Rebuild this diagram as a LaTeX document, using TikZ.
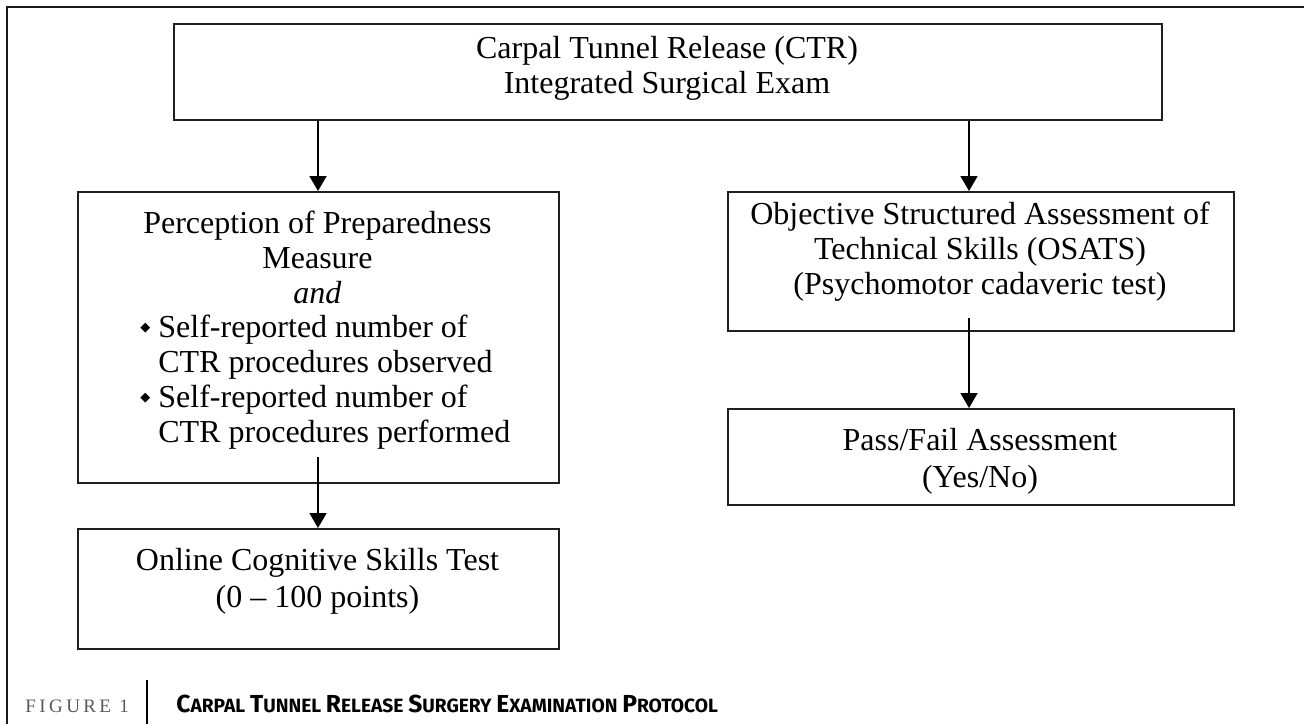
\documentclass[tikz,border=0pt]{standalone}
\usepackage{fontspec}
\setmainfont{Liberation Serif}
\newfontfamily\capfont{Fira Sans}
\newfontfamily\symfont{DejaVu Sans}
\usetikzlibrary{arrows.meta}
\newcommand\capsc[2]{{\fontsize{12.3}{12.3}\selectfont #1}{\fontsize{9.6}{9.6}\selectfont #2}}
\newcommand\bul{\makebox[9pt][l]{\raisebox{3pt}{\symfont\fontsize{6.5}{6.5}\selectfont ◆}}}
\tikzset{
  box/.style={draw=black!88, line width=1.2pt, anchor=north west, inner sep=0pt},
  txt/.style={align=center, inner sep=0pt, font=\fontsize{16}{17.5}\selectfont},
  ltxt/.style={align=left, inner sep=0pt, font=\fontsize{16}{17.5}\selectfont, anchor=north west},
  arr/.style={line width=0.85pt, -{Triangle[width=8.5pt,length=7.5pt]}},
  frame/.style={line width=0.6pt, black!90}
}
\begin{document}
\begin{tikzpicture}[x=0.5pt,y=-0.5pt]
\useasboundingbox (0,0) rectangle (1304,724);
\fill[white] (0,0) rectangle (1304,724);
\draw[frame] (7,724) -- (7,7) -- (1304,7);
% boxes
\node[box, minimum width=494pt, minimum height=48pt] (top) at (173,23) {};
\node[txt] (topt) at (667,68.5) {Carpal Tunnel Release (CTR)\\Integrated Surgical Exam};
\node[box, minimum width=240.5pt, minimum height=145.5pt] (left) at (77,191) {};
\node[txt] (leftt) at (317.5,257) {Perception of Preparedness\\Measure\\\textit{and}};
\node[ltxt] (leftb) at (140,315) {\bul Self-reported number of\\\hspace{9pt}CTR procedures observed\\\bul Self-reported number of\\\hspace{9pt}CTR procedures performed};
\node[box, minimum width=240.5pt, minimum height=60pt] (online) at (77,528) {};
\node[txt] (onlinet) at (317.5,581) {Online Cognitive Skills Test\\[1pt](0 -- 100 points)};
\node[box, minimum width=253pt, minimum height=69.5pt] (osats) at (727,191) {};
\node[txt] (osatst) at (980,252) {Objective Structured Assessment of\\Technical Skills (OSATS)\\(Psychomotor cadaveric test)};
\node[box, minimum width=253pt, minimum height=48pt] (pass) at (727,408) {};
\node[txt] (passt) at (980,461) {Pass/Fail Assessment\\[1pt](Yes/No)};
% arrow columns
\coordinate (cl) at (318,0);
\coordinate (cr) at (969,0);
\coordinate (sl) at (318,457);
\coordinate (sr) at (969,318);
\draw[arr] (top.south -| cl) -- (left.north -| cl);
\draw[arr] (top.south -| cr) -- (osats.north -| cr);
\draw[arr] (sl) -- (online.north -| sl);
\draw[arr] (sr) -- (pass.north -| sr);
% caption
\draw[line width=0.6pt] (147,680) coordinate (bt) -- (147,724) coordinate (bb);
\node[anchor=base west, inner sep=0pt, text=black!65, font=\fontsize{9.5}{9.5}\selectfont\addfontfeature{LetterSpace=18}] (fig) at (25,712) {FIGURE 1};
\node[anchor=base west, inner sep=0pt, font=\capfont\bfseries] (cap) at (176,712) {\capsc{C}{ARPAL} \capsc{T}{UNNEL} \capsc{R}{ELEASE} \capsc{S}{URGERY} \capsc{E}{XAMINATION} \capsc{P}{ROTOCOL}};
\end{tikzpicture}
\end{document}
